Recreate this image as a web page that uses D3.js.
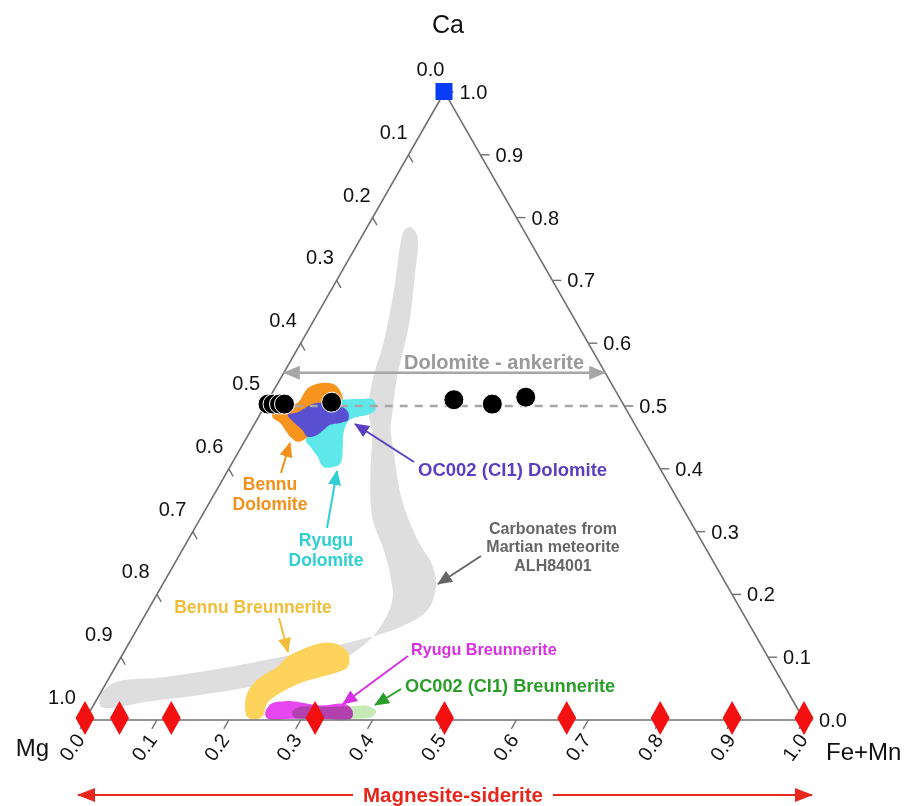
<!DOCTYPE html>
<html>
<head>
<meta charset="utf-8">
<script src="https://cdn.jsdelivr.net/npm/d3@7"></script>
<style>
  body { margin: 0; background: #fff; }
  svg { display: block; }
  text { font-family: "Liberation Sans", Arial, Helvetica, sans-serif; }
</style>
</head>
<body>
<svg id="chart" width="904" height="806"></svg>
<script>
// ternary points are [fe, ca]  (mg = 1 - fe - ca)
const ticks = d3.range(0, 11).map(d => d / 10);
const tickLabels = ticks.map(d => d.toFixed(1));

// Carbonates from Martian meteorite ALH84001 (outline of the grey band)
const martianBand = [
  [0.060, 0.785], [0.076, 0.772], [0.106, 0.705], [0.137, 0.626], [0.161, 0.546],
  [0.181, 0.494], [0.194, 0.462], [0.214, 0.430], [0.266, 0.350], [0.319, 0.287],
  [0.362, 0.244], [0.382, 0.212], [0.389, 0.175], [0.365, 0.148], [0.304, 0.123],
  [0.221, 0.100], [0.138, 0.080], [0.074, 0.068], [0.010, 0.059], [0.002, 0.040],
  [0.012, 0.021], [0.075, 0.030], [0.140, 0.040], [0.204, 0.053], [0.264, 0.072],
  [0.317, 0.104], [0.336, 0.143], [0.332, 0.191], [0.309, 0.231], [0.280, 0.271],
  [0.238, 0.323], [0.198, 0.398], [0.171, 0.457], [0.147, 0.494], [0.128, 0.546],
  [0.115, 0.600], [0.089, 0.680], [0.059, 0.760], [0.054, 0.780]
];

const bennuBreunnerite = [
  [0.223, 0.005], [0.207, 0.032], [0.204, 0.053], [0.210, 0.068], [0.225, 0.084],
  [0.231, 0.100], [0.244, 0.111], [0.270, 0.123], [0.295, 0.119], [0.315, 0.104],
  [0.323, 0.084], [0.313, 0.076], [0.293, 0.068], [0.270, 0.059], [0.250, 0.043],
  [0.240, 0.027], [0.244, 0.005], [0.234, 0.001]
];

const ryuguBreunnerite = [
  [0.245, 0.011], [0.246, 0.026], [0.264, 0.030], [0.286, 0.028], [0.316, 0.023],
  [0.350, 0.025], [0.366, 0.013], [0.369, 0.002], [0.327, 0.002], [0.286, 0.002],
  [0.253, 0.002]
];

const oc002Breunnerite = [
  [0.282, 0.013], [0.289, 0.021], [0.317, 0.021], [0.359, 0.022], [0.384, 0.022],
  [0.398, 0.014], [0.397, 0.005], [0.375, 0.002], [0.326, 0.002], [0.292, 0.002]
];

const bennuDolomite = [
  [0.016, 0.489], [0.022, 0.498], [0.043, 0.505], [0.046, 0.529], [0.063, 0.537],
  [0.082, 0.533], [0.102, 0.513], [0.106, 0.498], [0.102, 0.478], [0.091, 0.459],
  [0.081, 0.446], [0.074, 0.443], [0.060, 0.451], [0.035, 0.473], [0.021, 0.481]
];

const ryuguDolomite = [
  [0.082, 0.510], [0.100, 0.510], [0.127, 0.511], [0.146, 0.510], [0.157, 0.494],
  [0.150, 0.486], [0.133, 0.481], [0.128, 0.475], [0.131, 0.457], [0.141, 0.435],
  [0.151, 0.409], [0.144, 0.403], [0.130, 0.403], [0.114, 0.419], [0.096, 0.435],
  [0.084, 0.446], [0.089, 0.462], [0.088, 0.494]
];

const oc002Dolomite = [
  [0.039, 0.486], [0.051, 0.490], [0.063, 0.502], [0.075, 0.505], [0.093, 0.497],
  [0.109, 0.498], [0.121, 0.490], [0.127, 0.478], [0.119, 0.473], [0.106, 0.470],
  [0.101, 0.462], [0.096, 0.454], [0.084, 0.451], [0.071, 0.462], [0.052, 0.475]
];

// black circles (dolomite - ankerite analyses)
const dolomiteFe = [0.003, 0.010, 0.019, 0.026, 0.090, 0.258, 0.315, 0.356];
const dolomiteCa = [0.503, 0.503, 0.503, 0.503, 0.506, 0.510, 0.503, 0.514];

// red diamonds (magnesite - siderite series), all with ca = 0
const sideriteFe = [0.0, 0.048, 0.12, 0.32, 0.50, 0.67, 0.80, 0.90, 1.0];

// blue square (calcite)
const calcite = [[0, 1]];

const dolomiteLineCa = 0.5;
const dolomiteArrowCa = 0.553;

const svg = d3.select("#chart");

const x = d3.scaleLinear().domain([0, 1]).range([85, 804]);
const y = d3.scaleLinear().domain([0, 1]).range([720, 92]);
const proj = ([fe, ca]) => [x(fe + ca / 2), y(ca)];

const blob = d3.line()
  .x(d => proj(d)[0])
  .y(d => proj(d)[1])
  .curve(d3.curveCatmullRomClosed.alpha(0.5));

// markers
const defs = svg.append("defs");
function marker(id, color, w, h) {
  defs.append("marker")
    .attr("id", id)
    .attr("viewBox", `0 0 ${w} ${h}`)
    .attr("refX", w - 1)
    .attr("refY", h / 2)
    .attr("markerWidth", w)
    .attr("markerHeight", h)
    .attr("markerUnits", "userSpaceOnUse")
    .attr("orient", "auto-start-reverse")
    .append("path")
    .attr("d", `M0,0L${w},${h / 2}L0,${h}Z`)
    .attr("fill", color);
}

// regions
const regions = [
  { data: martianBand, fill: "#dedede" },
  { data: bennuBreunnerite, fill: "#fdd35c" },
  { data: ryuguBreunnerite, fill: "#e646f0" },
  { data: oc002Breunnerite, fill: "#c6e9b8", blend: "multiply" },
  { data: bennuDolomite, fill: "#f7941d" },
  { data: ryuguDolomite, fill: "#5ee8ea" },
  { data: oc002Dolomite, fill: "#5850d0" }
];

svg.append("g")
  .selectAll("path")
  .data(regions)
  .enter()
  .append("path")
  .attr("d", d => blob(d.data))
  .attr("fill", d => d.fill)
  .style("mix-blend-mode", d => d.blend || "normal");

// triangle
const corners = [[0, 1], [0, 0], [1, 0]].map(proj);
svg.append("path")
  .attr("d", d3.line()(corners) + "Z")
  .attr("fill", "none")
  .attr("stroke", "#707070")
  .attr("stroke-width", 1.6);

const axisFont = 20;

// right axis: Ca
const gR = svg.append("g");
ticks.forEach((v, i) => {
  const p = proj([1 - v, v]);
  gR.append("line")
    .attr("x1", p[0]).attr("y1", p[1])
    .attr("x2", p[0] + 9).attr("y2", p[1])
    .attr("stroke", "#707070").attr("stroke-width", 1.4);
  gR.append("text")
    .attr("x", p[0] + 15).attr("y", p[1])
    .attr("dy", "0.35em")
    .attr("font-size", axisFont)
    .attr("fill", "#111")
    .text(tickLabels[i]);
});

// left axis: Mg
const gL = svg.append("g");
ticks.forEach((t, i) => {
  const p = proj([0, 1 - t]);
  const q = proj([0.012, 1 - t - 0.012]);
  if (t > 0 && t < 1) {
    gL.append("line")
      .attr("x1", p[0]).attr("y1", p[1])
      .attr("x2", q[0]).attr("y2", q[1])
      .attr("stroke", "#707070").attr("stroke-width", 1.4);
  }
  gL.append("text")
    .attr("x", p[0] - 14 - 9 * t).attr("y", p[1] - 23)
    .attr("dy", "0.35em")
    .attr("text-anchor", "middle")
    .attr("font-size", axisFont)
    .attr("fill", "#111")
    .text(tickLabels[i]);
});

// bottom axis: Fe+Mn
const gB = svg.append("g");
ticks.forEach((f, i) => {
  const p = proj([f, 0]);
  const q = proj([f, -0.014]);
  gB.append("line")
    .attr("x1", p[0]).attr("y1", p[1])
    .attr("x2", q[0]).attr("y2", q[1])
    .attr("stroke", "#707070").attr("stroke-width", 1.4);
  gB.append("text")
    .attr("transform", `translate(${p[0] - 5 + 4 * f},${p[1] + 16}) rotate(-54)`)
    .attr("dy", "0.35em")
    .attr("text-anchor", "end")
    .attr("font-size", axisFont)
    .attr("fill", "#111")
    .text(tickLabels[i]);
});

// corner labels
svg.append("text").attr("x", 448).attr("y", 33).attr("text-anchor", "middle")
  .attr("font-size", 25).attr("fill", "#111").text("Ca");
svg.append("text").attr("x", 49).attr("y", 756).attr("text-anchor", "end")
  .attr("font-size", 24).attr("fill", "#111").text("Mg");
svg.append("text").attr("x", 826).attr("y", 760)
  .attr("font-size", 24).attr("fill", "#111").text("Fe+Mn");

// dolomite - ankerite dashed line and arrow
marker("arrGray", "#a6a6a6", 17, 14);
svg.append("line")
  .attr("x1", proj([0, dolomiteLineCa])[0]).attr("y1", proj([0, dolomiteLineCa])[1])
  .attr("x2", proj([1 - dolomiteLineCa, dolomiteLineCa])[0]).attr("y2", proj([1 - dolomiteLineCa, dolomiteLineCa])[1])
  .attr("stroke", "#a6a6a6").attr("stroke-width", 2.5)
  .attr("stroke-dasharray", "8,7");

const aL = proj([0, dolomiteArrowCa]);
const aR = proj([1 - dolomiteArrowCa, dolomiteArrowCa]);
svg.append("line")
  .attr("x1", aL[0]).attr("y1", aL[1])
  .attr("x2", aR[0]).attr("y2", aR[1])
  .attr("stroke", "#a6a6a6").attr("stroke-width", 2.5)
  .attr("marker-start", "url(#arrGray)")
  .attr("marker-end", "url(#arrGray)");
svg.append("text")
  .attr("x", 494).attr("y", 369)
  .attr("text-anchor", "middle")
  .attr("font-size", 20).attr("font-weight", "bold")
  .attr("fill", "#999999")
  .text("Dolomite - ankerite");

// black dots
svg.append("g")
  .selectAll("circle")
  .data(dolomiteFe.map((f, i) => [f, dolomiteCa[i]]))
  .enter()
  .append("circle")
  .attr("cx", d => proj(d)[0])
  .attr("cy", d => proj(d)[1])
  .attr("r", 10)
  .attr("fill", "#000")
  .attr("stroke", "#fff")
  .attr("stroke-width", 1);

// red diamonds
svg.append("g")
  .selectAll("path")
  .data(sideriteFe)
  .enter()
  .append("path")
  .attr("transform", f => `translate(${proj([f, 0])[0]},${proj([f, 0])[1] - 2})`)
  .attr("d", "M0,-17L9.5,0L0,17L-9.5,0Z")
  .attr("fill", "#f21010");

// blue square
svg.append("g")
  .selectAll("rect")
  .data(calcite)
  .enter()
  .append("rect")
  .attr("x", d => proj(d)[0] - 9)
  .attr("y", d => proj(d)[1] - 9)
  .attr("width", 17)
  .attr("height", 17)
  .attr("fill", "#0a3cf5");

// annotations
const notes = [
  { lines: ["OC002 (CI1) Dolomite"], x: 418, y: 476, anchor: "start", size: 18.5, color: "#5a3fc2", from: [414, 462], to: [355, 424] },
  { lines: ["Bennu", "Dolomite"], x: 270, y: 490, anchor: "middle", size: 17.5, color: "#f39019", from: [281, 473], to: [290, 443] },
  { lines: ["Ryugu", "Dolomite"], x: 326, y: 546, anchor: "middle", size: 17.5, color: "#2fcfd2", from: [327, 528], to: [337, 471] },
  { lines: ["Carbonates from", "Martian meteorite", "ALH84001"], x: 553, y: 534, anchor: "middle", size: 16, color: "#666666", from: [481, 556], to: [438, 584] },
  { lines: ["Bennu Breunnerite"], x: 253, y: 613, anchor: "middle", size: 17.5, color: "#f0be38", from: [279, 618], to: [288, 652] },
  { lines: ["Ryugu Breunnerite"], x: 411, y: 655, anchor: "start", size: 16.2, color: "#d630e2", from: [408, 656], to: [343, 704] },
  { lines: ["OC002 (CI1) Breunnerite"], x: 405, y: 692, anchor: "start", size: 18.2, color: "#2a9d2a", from: [401, 689], to: [375, 705] }
];

notes.forEach((n, i) => {
  marker("arr" + i, n.color, 15, 13);
  svg.append("line")
    .attr("x1", n.from[0]).attr("y1", n.from[1])
    .attr("x2", n.to[0]).attr("y2", n.to[1])
    .attr("stroke", n.color).attr("stroke-width", 2)
    .attr("marker-end", `url(#arr${i})`);
  const t = svg.append("text")
    .attr("x", n.x).attr("y", n.y)
    .attr("text-anchor", n.anchor)
    .attr("font-size", n.size)
    .attr("font-weight", "bold")
    .attr("fill", n.color);
  n.lines.forEach((s, j) => {
    t.append("tspan").attr("x", n.x).attr("dy", j === 0 ? 0 : "1.15em").text(s);
  });
});

// magnesite - siderite arrow
marker("arrRed", "#e8261c", 18, 14);
svg.append("line")
  .attr("x1", 353).attr("y1", 795).attr("x2", 78).attr("y2", 795)
  .attr("stroke", "#e8261c").attr("stroke-width", 2)
  .attr("marker-end", "url(#arrRed)");
svg.append("line")
  .attr("x1", 553).attr("y1", 795).attr("x2", 812).attr("y2", 795)
  .attr("stroke", "#e8261c").attr("stroke-width", 2)
  .attr("marker-end", "url(#arrRed)");
svg.append("text")
  .attr("x", 453).attr("y", 802)
  .attr("text-anchor", "middle")
  .attr("font-size", 20.5).attr("font-weight", "bold")
  .attr("fill", "#e8261c")
  .text("Magnesite-siderite");
</script>
</body>
</html>
